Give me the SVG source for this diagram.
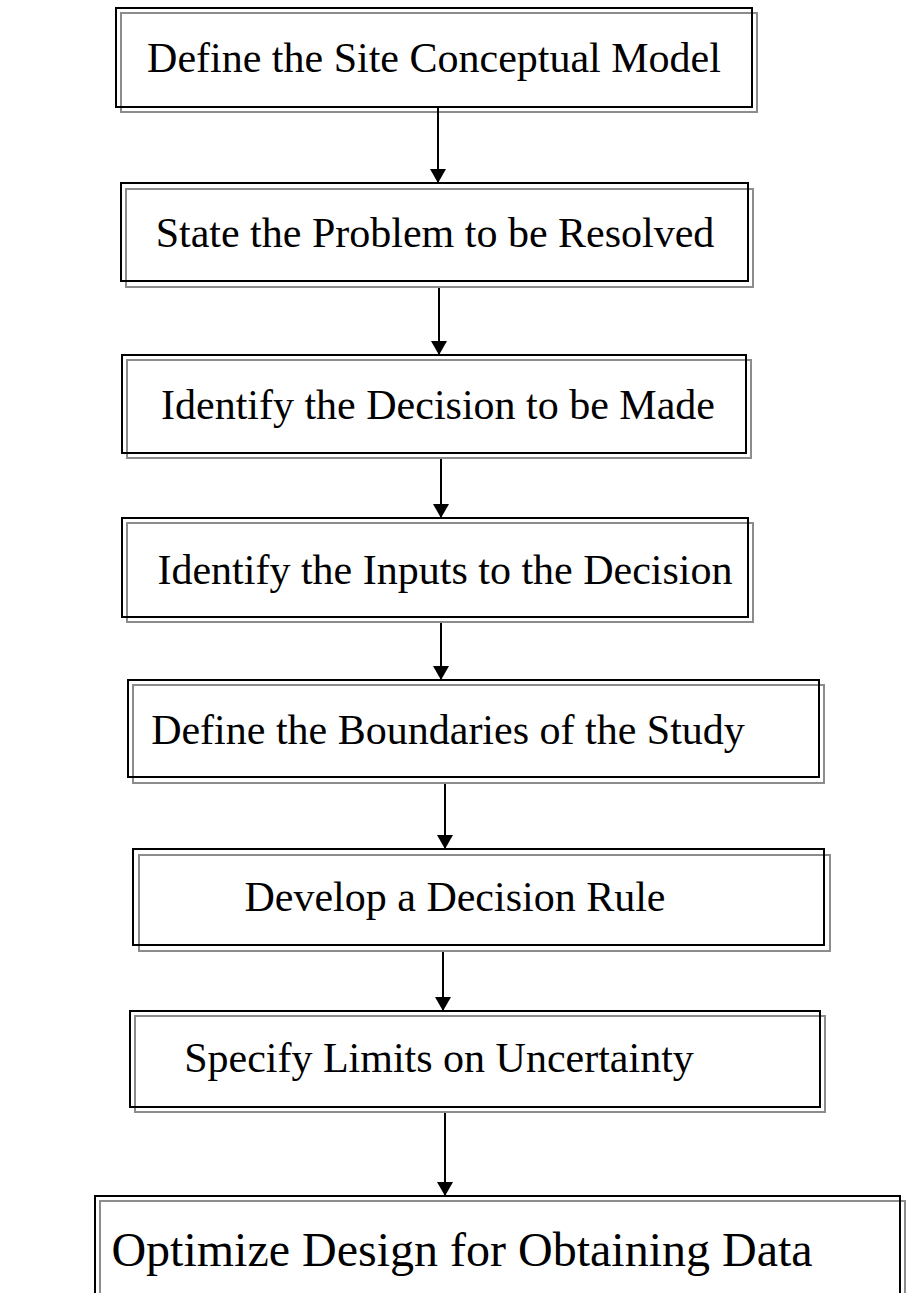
<svg xmlns="http://www.w3.org/2000/svg" width="914" height="1293" viewBox="0 0 914 1293">
  <style>
    .frame { fill: none; stroke: #000; stroke-width: 2; }
    .shade { fill: none; stroke: #8c8c8c; stroke-width: 2; }
    .label { font-family: "Liberation Serif", "Times New Roman", serif; font-size: 42px; fill: #000; text-anchor: middle; }
    .big { font-size: 48px; }
    .link { stroke: #000; stroke-width: 2; fill: none; marker-end: url(#head); }
  </style>
  <defs>
    <!-- solid triangular arrowhead, tip at the end of the line -->
    <marker id="head" viewBox="0 0 14 16" refX="14" refY="8" markerWidth="14" markerHeight="16" markerUnits="userSpaceOnUse" orient="auto">
      <path d="M0,0 L14,8 L0,16 Z" fill="#000"/>
    </marker>
  </defs>
  <rect width="914" height="1293" fill="#fff"/>

  <!-- each step: grey offset outline behind a black outline -->
  <g id="step1">
    <rect class="shade" x="121" y="13" width="636" height="99"/>
    <rect class="frame" x="116" y="8" width="636" height="99"/>
    <text class="label" x="434" y="72">Define the Site Conceptual Model</text>
  </g>
  <g id="step2">
    <rect class="shade" x="126" y="189" width="627" height="98"/>
    <rect class="frame" x="121" y="183" width="627" height="98"/>
    <text class="label" x="435" y="247">State the Problem to be Resolved</text>
  </g>
  <g id="step3">
    <rect class="shade" x="127" y="360" width="624" height="98"/>
    <rect class="frame" x="122" y="355" width="624" height="98"/>
    <text class="label" x="438" y="419">Identify the Decision to be Made</text>
  </g>
  <g id="step4">
    <rect class="shade" x="127" y="523" width="626" height="99"/>
    <rect class="frame" x="122" y="518" width="626" height="99"/>
    <text class="label" x="445" y="584">Identify the Inputs to the Decision</text>
  </g>
  <g id="step5">
    <rect class="shade" x="133" y="685" width="691" height="98"/>
    <rect class="frame" x="128" y="680" width="691" height="97"/>
    <text class="label" x="448" y="744">Define the Boundaries of the Study</text>
  </g>
  <g id="step6">
    <rect class="shade" x="139" y="855" width="691" height="96"/>
    <rect class="frame" x="133" y="849" width="691" height="96"/>
    <text class="label" x="455" y="911">Develop a Decision Rule</text>
  </g>
  <g id="step7">
    <rect class="shade" x="135" y="1016" width="690" height="96"/>
    <rect class="frame" x="130" y="1011" width="690" height="96"/>
    <text class="label" x="439" y="1072">Specify Limits on Uncertainty</text>
  </g>
  <g id="step8">
    <rect class="shade" x="100" y="1201" width="805" height="120"/>
    <rect class="frame" x="95" y="1196" width="805" height="120"/>
    <text class="label big" x="462" y="1266">Optimize Design for Obtaining Data</text>
  </g>

  <g id="connectors">
    <line class="link" x1="438" y1="108" x2="438" y2="183"/>
    <line class="link" x1="439" y1="288" x2="439" y2="355"/>
    <line class="link" x1="441" y1="459" x2="441" y2="518"/>
    <line class="link" x1="441" y1="623" x2="441" y2="680"/>
    <line class="link" x1="445" y1="784" x2="445" y2="849"/>
    <line class="link" x1="443" y1="952" x2="443" y2="1011"/>
    <line class="link" x1="445" y1="1113" x2="445" y2="1196"/>
  </g>
</svg>
